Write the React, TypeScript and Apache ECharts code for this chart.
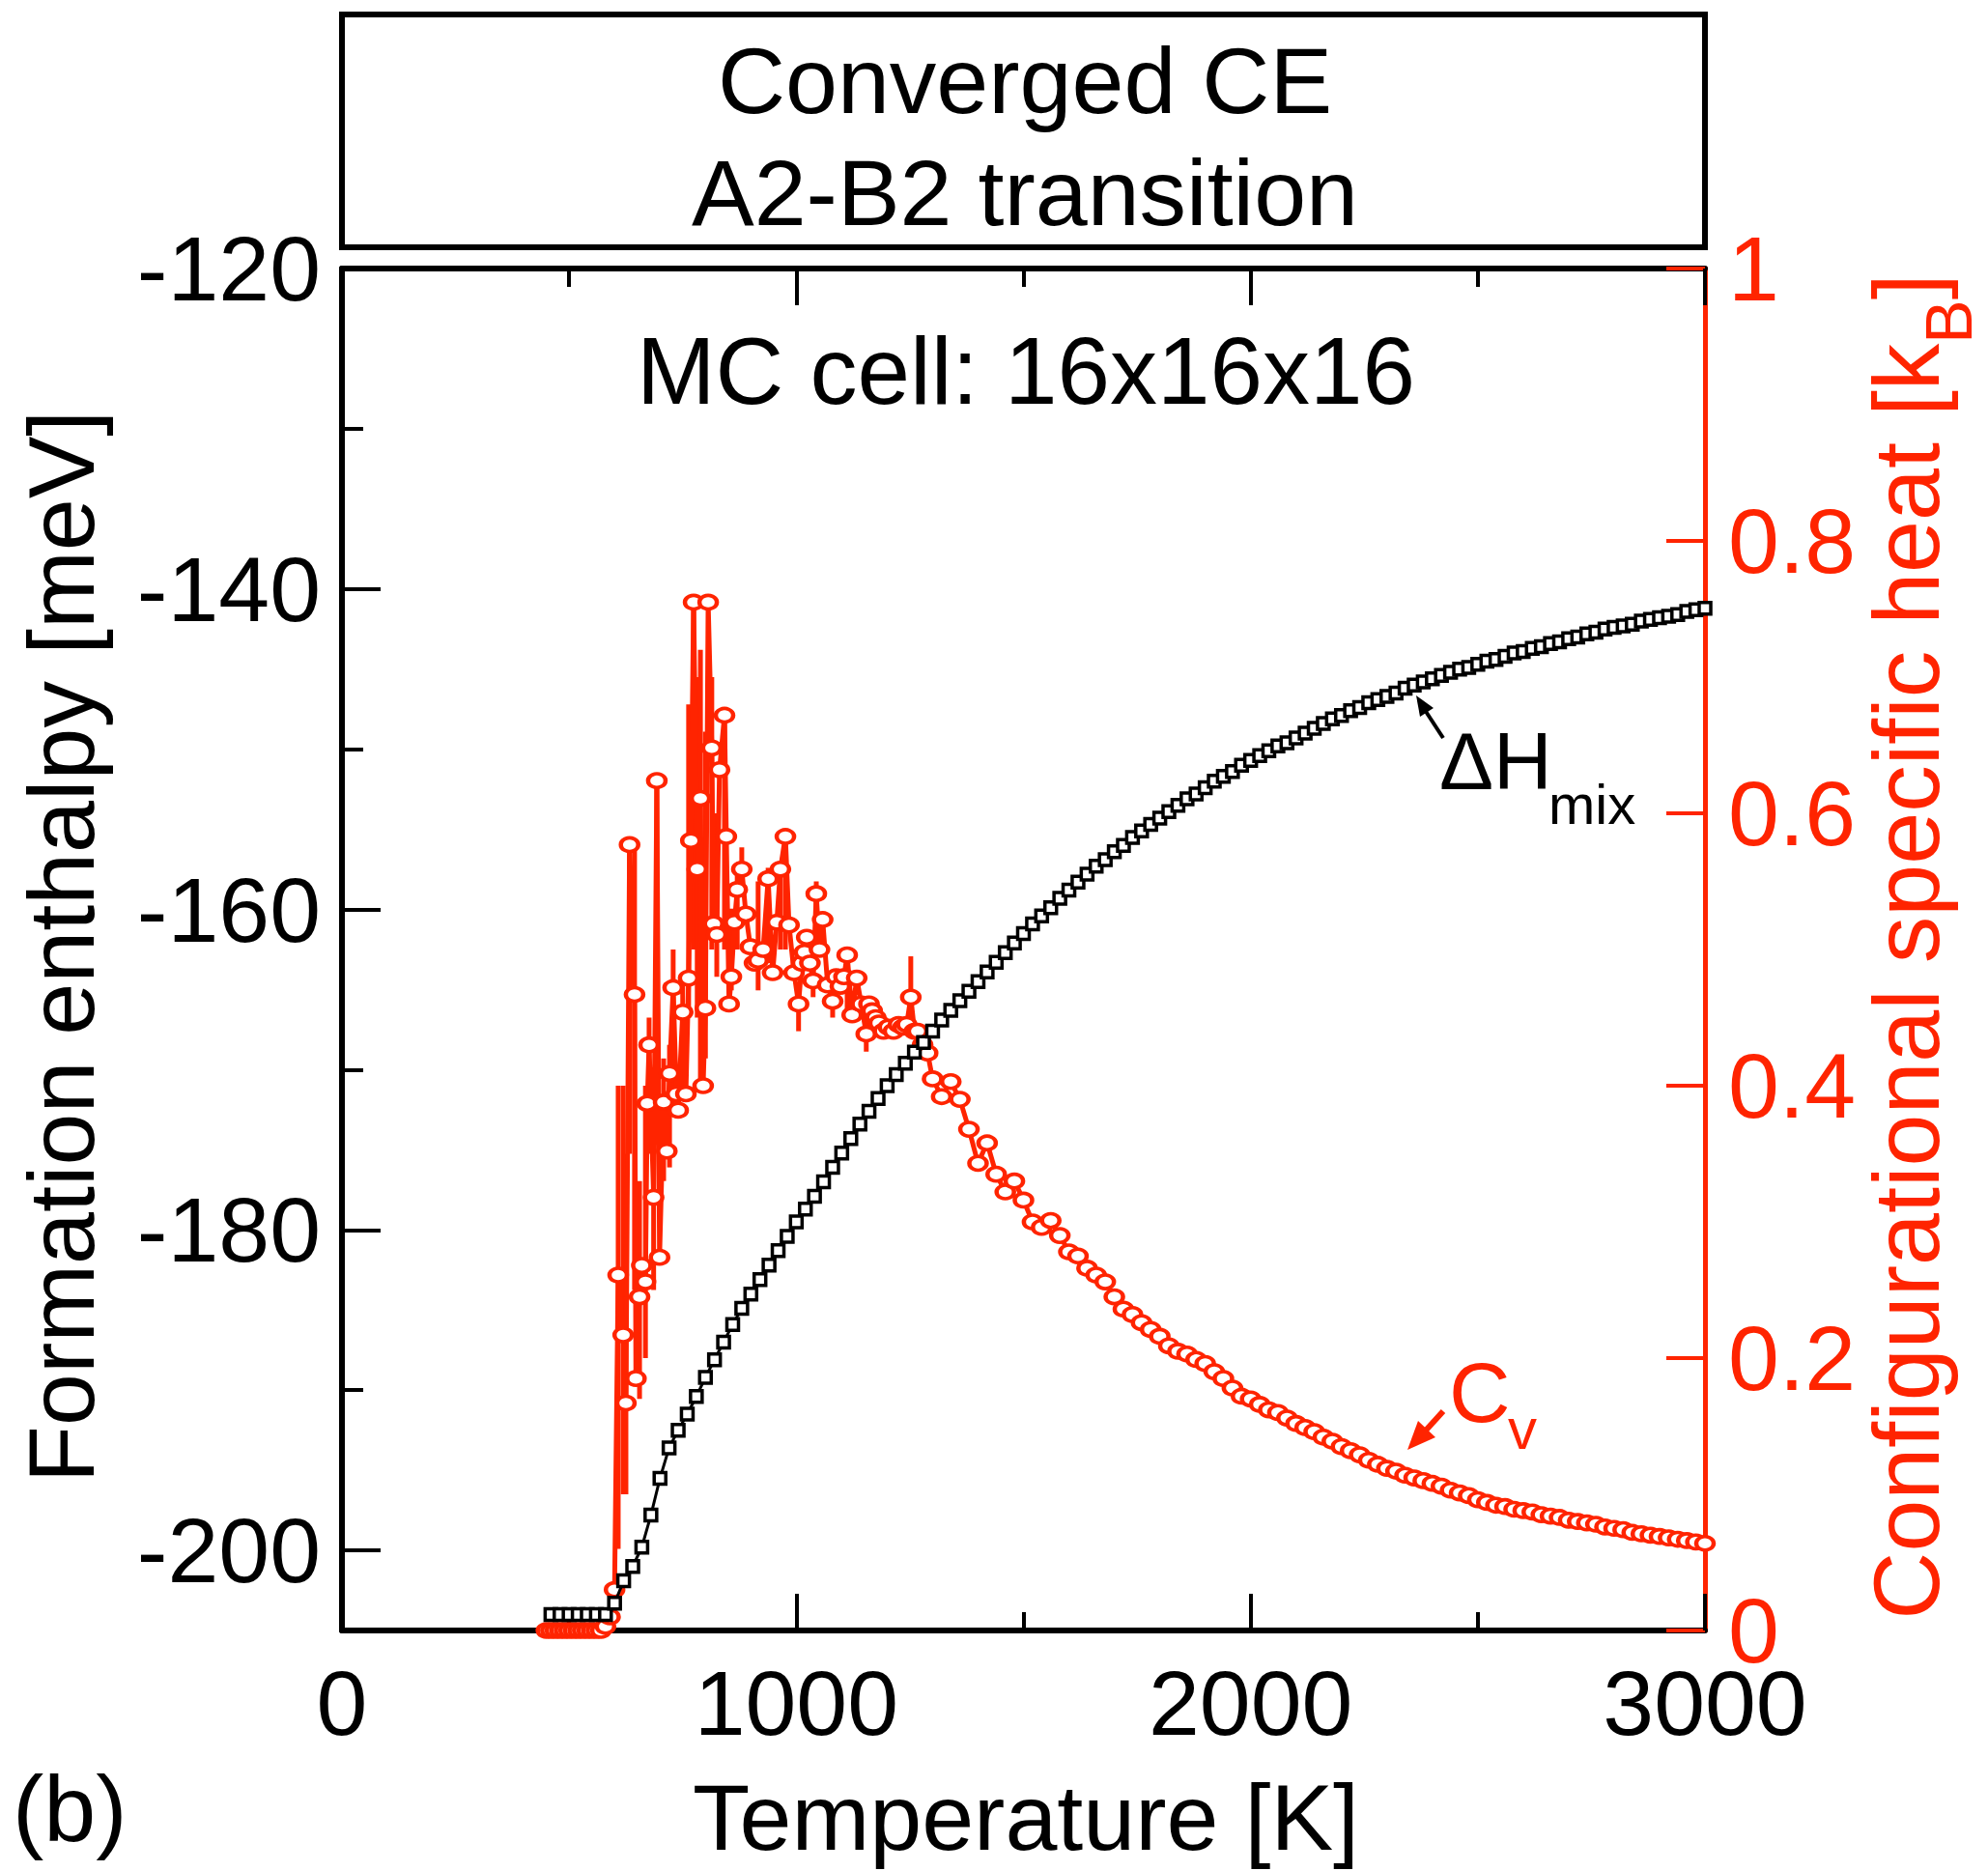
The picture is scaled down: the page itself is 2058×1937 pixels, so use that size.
import { useEffect, useRef } from 'react';
import * as echarts from 'echarts';

const FONT = '"Liberation Sans", Arial, Helvetica, sans-serif';
const RED = '#ff2400';

// ---- axis definitions ----
const xMin = 0;
const xMax = 3000;
const xInterval = 1000;
const hMin = -205;
const hMax = -120;
const hMajorTicks = [-200, -180, -160, -140, -120];
const hMinorTicks = [-190, -170, -150, -130];
const cvMin = 0;
const cvMax = 1;
const cvInterval = 0.2;

// ---- texts ----
const titleLines = ['Converged CE', 'A2-B2 transition'];
const cellLabel = 'MC cell: 16x16x16';
const xTitle = 'Temperature [K]';
const leftTitle = 'Formation enthalpy [meV]';
const rightTitleMain = 'Configurational specific heat [k';
const rightTitleSub = 'B';
const panelLabel = '(b)';

// ---- formation enthalpy (meV), sampled every 20 K starting at 460 K ----
const dHmixStartT = 460;
const dHmixStepT = 20;
const dHmix = [
  -204.0, -204.0, -204.0, -204.0, -204.0, -204.0, -204.0, -203.3, -201.9, -201.0,
  -199.8, -197.8, -195.5, -193.6, -192.5, -191.5, -190.4, -189.2, -188.1, -187.0,
  -185.9, -184.9, -184.0, -183.1, -182.2, -181.3, -180.4, -179.5, -178.7, -177.9,
  -177.0, -176.1, -175.2, -174.3, -173.4, -172.6, -171.8, -171.0, -170.3, -169.6,
  -168.9, -168.3, -167.6, -166.9, -166.3, -165.7, -165.1, -164.5, -163.9, -163.3,
  -162.7, -162.1, -161.5, -160.9, -160.4, -159.9, -159.3, -158.8, -158.3, -157.8,
  -157.3, -156.9, -156.4, -156.0, -155.5, -155.1, -154.7, -154.3, -153.9, -153.5,
  -153.1, -152.8, -152.4, -152.0, -151.7, -151.4, -151.0, -150.7, -150.4, -150.1,
  -149.8, -149.6, -149.3, -149.0, -148.7, -148.4, -148.1, -147.9, -147.6, -147.4,
  -147.1, -146.9, -146.7, -146.5, -146.2, -146.0, -145.8, -145.6, -145.4, -145.2,
  -145.0, -144.9, -144.7, -144.5, -144.4, -144.2, -144.0, -143.9, -143.7, -143.6,
  -143.4, -143.3, -143.1, -143.0, -142.8, -142.7, -142.5, -142.4, -142.3, -142.2,
  -142.0, -141.9, -141.8, -141.7, -141.6, -141.4, -141.3, -141.2,
];

// ---- configurational specific heat (kB): [T, Cv] ----
const cvData = [
  [450, 0], [460, 0], [470, 0], [480, 0], [490, 0], [500, 0], [510, 0], [520, 0],
  [530, 0], [540, 0], [550, 0], [560, 0], [570, 0], [580, 0.003], [590, 0.01], [600, 0.03],
  [608, 0.261], [619, 0.217], [625, 0.167], [633, 0.577], [644, 0.467], [647, 0.185],
  [655, 0.245], [660, 0.268], [668, 0.256], [672, 0.387], [676, 0.43], [686, 0.318],
  [693, 0.624], [699, 0.274], [708, 0.388], [715, 0.352], [721, 0.409], [729, 0.472],
  [736, 0.394], [740, 0.382], [750, 0.454], [757, 0.394], [763, 0.479], [768, 0.58],
  [774, 0.755], [782, 0.559], [789, 0.611], [795, 0.4], [800, 0.457], [806, 0.755],
  [814, 0.648], [818, 0.519], [825, 0.511], [831, 0.632], [842, 0.672], [846, 0.583],
  [852, 0.46], [857, 0.48], [864, 0.52], [870, 0.544], [880, 0.559], [889, 0.526],
  [899, 0.502], [908, 0.49], [916, 0.492], [927, 0.5], [938, 0.552], [948, 0.483],
  [957, 0.52], [965, 0.559], [976, 0.583], [984, 0.518], [995, 0.483], [1005, 0.46],
  [1012, 0.49], [1018, 0.498], [1023, 0.509], [1030, 0.49], [1037, 0.477], [1044, 0.541],
  [1051, 0.5], [1058, 0.522], [1069, 0.474], [1080, 0.462], [1088, 0.48], [1097, 0.473],
  [1105, 0.48], [1112, 0.496], [1123, 0.452], [1133, 0.479], [1143, 0.46], [1154, 0.438],
  [1160, 0.46], [1167, 0.455], [1175, 0.45], [1182, 0.446], [1192, 0.44], [1203, 0.443],
  [1214, 0.44], [1225, 0.445], [1235, 0.443], [1243, 0.445], [1252, 0.465], [1260, 0.44],
  [1267, 0.44], [1278, 0.43], [1289, 0.424],
  [1300, 0.405], [1320, 0.392], [1340, 0.403], [1360, 0.39], [1380, 0.368], [1400, 0.343],
  [1420, 0.358], [1440, 0.335], [1460, 0.322], [1480, 0.33], [1500, 0.316], [1520, 0.3],
  [1540, 0.296], [1560, 0.301], [1580, 0.29], [1600, 0.278], [1620, 0.275], [1640, 0.266],
  [1660, 0.261], [1680, 0.256], [1700, 0.245], [1720, 0.236], [1740, 0.232], [1760, 0.226],
  [1780, 0.221], [1800, 0.216], [1820, 0.209], [1840, 0.205], [1860, 0.203], [1880, 0.199],
  [1900, 0.196], [1920, 0.19], [1940, 0.185], [1960, 0.178], [1980, 0.172], [2000, 0.17],
  [2020, 0.166], [2040, 0.162], [2060, 0.16], [2080, 0.156], [2100, 0.152], [2120, 0.149],
  [2140, 0.146], [2160, 0.142], [2180, 0.139], [2200, 0.135], [2220, 0.132], [2240, 0.129],
  [2260, 0.125], [2280, 0.122], [2300, 0.119], [2320, 0.117], [2340, 0.114], [2360, 0.112],
  [2380, 0.11], [2400, 0.108], [2420, 0.106], [2440, 0.103], [2460, 0.101], [2480, 0.099],
  [2500, 0.096], [2520, 0.094], [2540, 0.092], [2560, 0.091], [2580, 0.089], [2600, 0.088],
  [2620, 0.087], [2640, 0.085], [2660, 0.084], [2680, 0.083], [2700, 0.081], [2720, 0.08],
  [2740, 0.079], [2760, 0.078], [2780, 0.076], [2800, 0.075], [2820, 0.074], [2840, 0.072],
  [2860, 0.071], [2880, 0.07], [2900, 0.069], [2920, 0.068], [2940, 0.067], [2960, 0.066],
  [2980, 0.065], [3000, 0.064],
];

// error bars: [T, low, high]
const cvErrBars = [
  [608, 0.06, 0.4], [619, 0.1, 0.4], [625, 0.1, 0.35], [633, 0.35, 0.577], [644, 0.25, 0.577],
  [655, 0.17, 0.33], [668, 0.2, 0.4], [676, 0.35, 0.45], [686, 0.25, 0.4], [693, 0.4, 0.624],
  [708, 0.33, 0.42], [721, 0.34, 0.43], [729, 0.39, 0.5], [750, 0.39, 0.48], [763, 0.45, 0.68],
  [774, 0.5, 0.755], [782, 0.45, 0.7], [789, 0.4, 0.72], [800, 0.42, 0.66], [814, 0.5, 0.7],
  [825, 0.48, 0.6], [842, 0.5, 0.67], [857, 0.47, 0.53], [870, 0.5, 0.56], [880, 0.545, 0.575],
  [916, 0.47, 0.55], [938, 0.49, 0.56], [965, 0.5, 0.56], [976, 0.5, 0.58], [1005, 0.44, 0.475],
  [1037, 0.465, 0.49], [1044, 0.5, 0.55], [1080, 0.45, 0.48], [1112, 0.45, 0.5],
  [1154, 0.425, 0.452], [1252, 0.445, 0.495],
];

export default function App() {
  const ref = useRef<HTMLDivElement>(null);

  useEffect(() => {
    if (!ref.current) return;
    const chart = echarts.init(ref.current, undefined, { renderer: 'svg' });

    const dHData = dHmix.map((v, i) => [dHmixStartT + i * dHmixStepT, v]);

    const txt = (x: number, y: number, text: string, fontSize: number, color: string, align = 'left', extra: any = {}) => ({
      type: 'text',
      x,
      y,
      silent: true,
      ...extra,
      style: {
        text,
        fontSize,
        fontFamily: FONT,
        fill: color,
        align,
        verticalAlign: 'middle',
        ...(extra.style || {}),
      },
    });

    const option: any = {
      animation: false,
      backgroundColor: '#fff',
      grid: { left: 354, right: 293, top: 278, bottom: 249, containLabel: false, outerBoundsMode: 'none' },
      xAxis: [
        {
          type: 'value', position: 'bottom', min: xMin, max: xMax, interval: xInterval,
          axisLine: { show: true, onZero: false, lineStyle: { color: '#000', width: 6 } },
          axisTick: { show: true, inside: true, length: 38, lineStyle: { color: '#000', width: 4 } },
          minorTick: { show: true, splitNumber: 2, length: 19, lineStyle: { color: '#000', width: 4 } },
          axisLabel: {
            show: true, fontSize: 95, color: '#000', fontFamily: FONT, margin: 27,
            formatter: (v: number) => String(v),
          },
          splitLine: { show: false },
        },
        {
          type: 'value', position: 'top', min: xMin, max: xMax, interval: xInterval,
          axisLine: { show: true, onZero: false, lineStyle: { color: '#000', width: 6 } },
          axisTick: { show: true, inside: true, length: 38, lineStyle: { color: '#000', width: 4 } },
          minorTick: { show: true, splitNumber: 2, length: 19, lineStyle: { color: '#000', width: 4 } },
          axisLabel: { show: false },
          splitLine: { show: false },
        },
      ],
      yAxis: [
        {
          type: 'value', position: 'left', min: hMin, max: hMax,
          axisLine: { show: true, onZero: false, lineStyle: { color: '#000', width: 6 } },
          axisTick: { show: true, inside: true, length: 40, customValues: hMajorTicks, lineStyle: { color: '#000', width: 4 } },
          axisLabel: { show: true, customValues: hMajorTicks, fontSize: 95, color: '#000', fontFamily: FONT, margin: 22 },
          splitLine: { show: false },
        },
        {
          type: 'value', position: 'left', min: hMin, max: hMax,
          axisLine: { show: false },
          axisTick: { show: true, inside: true, length: 22, customValues: hMinorTicks, lineStyle: { color: '#000', width: 4 } },
          axisLabel: { show: false },
          splitLine: { show: false },
        },
        {
          type: 'value', position: 'right', min: cvMin, max: cvMax, interval: cvInterval,
          axisLine: { show: true, onZero: false, lineStyle: { color: RED, width: 5 } },
          axisTick: { show: true, inside: true, length: 40, lineStyle: { color: RED, width: 4 } },
          axisLabel: {
            show: true, fontSize: 95, color: RED, fontFamily: FONT, margin: 24,
            formatter: (v: number) => (v === 0 ? '0' : v === 1 ? '1' : v.toFixed(1)),
          },
          splitLine: { show: false },
        },
      ],
      series: [
        {
          type: 'custom',
          name: 'CvErr',
          xAxisIndex: 0,
          yAxisIndex: 2,
          data: cvErrBars,
          clip: false,
          z: 2,
          renderItem: (params: any, api: any) => {
            const p1 = api.coord([api.value(0), api.value(1)]);
            const p2 = api.coord([api.value(0), api.value(2)]);
            return {
              type: 'line',
              shape: { x1: p1[0], y1: p1[1], x2: p2[0], y2: p2[1] },
              style: { stroke: RED, lineWidth: 5 },
            };
          },
        },
        {
          type: 'line',
          name: 'Cv',
          xAxisIndex: 0,
          yAxisIndex: 2,
          data: cvData,
          clip: false,
          z: 3,
          symbol: 'circle',
          symbolSize: [18, 14],
          showSymbol: true,
          showAllSymbol: true,
          lineStyle: { color: RED, width: 5 },
          itemStyle: { color: '#fff', borderColor: RED, borderWidth: 4 },
          emphasis: { disabled: true },
        },
        {
          type: 'line',
          name: 'dHmix',
          xAxisIndex: 0,
          yAxisIndex: 0,
          data: dHData,
          clip: false,
          z: 4,
          symbol: 'rect',
          symbolSize: 12,
          showSymbol: true,
          showAllSymbol: true,
          lineStyle: { color: '#000', width: 3 },
          itemStyle: { color: '#fff', borderColor: '#000', borderWidth: 3.5 },
          emphasis: { disabled: true },
        },
      ],
      graphic: [
        {
          type: 'rect', silent: true,
          shape: { x: 354, y: 15, width: 1411, height: 241 },
          style: { fill: 'none', stroke: '#000', lineWidth: 6 },
        },
        txt(1061, 83, titleLines[0], 97, '#000', 'center'),
        txt(1061, 199, titleLines[1], 97, '#000', 'center'),
        txt(1062, 384, cellLabel, 98, '#000', 'center'),
        txt(1062, 1881, xTitle, 97, '#000', 'center'),
        txt(13, 1872, panelLabel, 97, '#000', 'left'),
        txt(63, 980, leftTitle, 97, '#000', 'center', { rotation: Math.PI / 2 }),
        {
          type: 'text', silent: true, x: 1925, y: 980, rotation: Math.PI / 2,
          style: {
            text: '{a|' + rightTitleMain + '}{b|' + rightTitleSub + '}{a|]}',
            align: 'center',
            verticalAlign: 'top',
            rich: {
              a: { fontSize: 97, fontFamily: FONT, fill: RED, color: RED, verticalAlign: 'top' },
              b: { fontSize: 68, fontFamily: FONT, fill: RED, color: RED, verticalAlign: 'top', padding: [58, 0, 0, 0] },
            },
          },
        },
        // Delta H_mix label and arrow
        txt(1490, 788, '\u0394H', 84, '#000', 'left'),
        txt(1603, 832, 'mix', 58, '#000', 'left'),
        {
          type: 'line', silent: true,
          shape: { x1: 1494, y1: 764, x2: 1475, y2: 735 },
          style: { stroke: '#000', lineWidth: 4 },
        },
        {
          type: 'polygon', silent: true,
          shape: { points: [[1466, 720], [1484, 733], [1470, 742]] },
          style: { fill: '#000' },
        },
        // Cv label and arrow
        txt(1500, 1441, 'C', 88, RED, 'left'),
        txt(1561, 1479, 'v', 60, RED, 'left'),
        {
          type: 'line', silent: true,
          shape: { x1: 1494, y1: 1461, x2: 1474, y2: 1483 },
          style: { stroke: RED, lineWidth: 6 },
        },
        {
          type: 'polygon', silent: true,
          shape: { points: [[1457, 1501], [1486, 1488], [1468, 1471]] },
          style: { fill: RED },
        },
      ],
    };

    chart.setOption(option);
    return () => chart.dispose();
  }, []);

  return (
    <div
      ref={ref}
      style={{ position: 'absolute', left: 0, top: 0, width: 2058, height: 1937, background: '#fff' }}
    />
  );
}
